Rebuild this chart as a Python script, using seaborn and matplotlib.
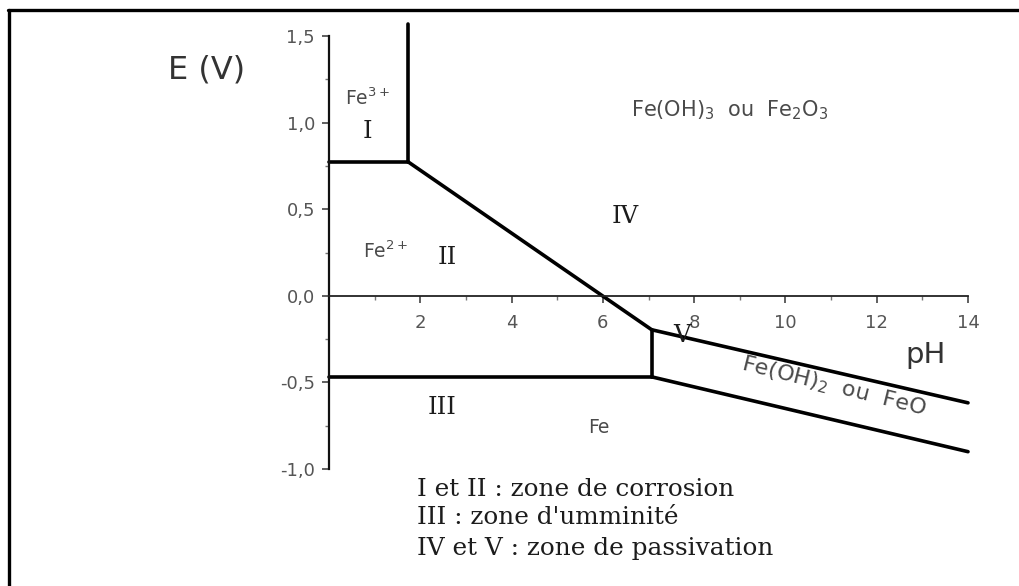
import numpy as np
import pandas as pd
import matplotlib
matplotlib.use("Agg")
import matplotlib.pyplot as plt
import matplotlib.ticker as ticker
from matplotlib.lines import Line2D
import seaborn as sns

# boundary segments of the Pourbaix diagram (pH, E in V)
seg_names = ["Fe3+/Fe2+", "Fe3+/Fe(OH)3", "Fe2+/Fe(OH)3", "Fe2+/Fe(OH)2 (v)",
             "Fe/Fe2+", "Fe(OH)3/Fe(OH)2", "Fe/Fe(OH)2"]
seg_ph_start = [0.0, 1.73, 1.73, 7.07, 0.0, 7.07, 7.07]
seg_ph_end = [1.73, 1.73, 7.07, 7.07, 7.07, 14.0, 14.0]
seg_e_start = [0.774, 0.774, 0.774, -0.196, -0.468, -0.196, -0.468]
seg_e_end = [0.774, 1.57, -0.196, -0.468, -0.468, -0.618, -0.900]

x_major = [2, 4, 6, 8, 10, 12, 14]
y_major = [-1.0, -0.5, 0.0, 0.5, 1.0, 1.5]

legend_lines = ["I et II : zone de corrosion",
                "III : zone d'umminité",
                "IV et V : zone de passivation"]

rows = []
for name, x0, x1, e0, e1 in zip(seg_names, seg_ph_start, seg_ph_end, seg_e_start, seg_e_end):
    rows.append({"segment": name, "pH": x0, "E": e0})
    rows.append({"segment": name, "pH": x1, "E": e1})
df = pd.DataFrame(rows)

sns.set_style("ticks")
plt.rcParams["font.family"] = ["DejaVu Sans"]

W, H = 1019, 586
fig = plt.figure(figsize=(W / 100, H / 100), dpi=100)
ax_left, ax_right, ax_top, ax_bot = 329, 968, 36, 469
ax = fig.add_axes([ax_left / W, 1 - ax_bot / H, (ax_right - ax_left) / W, (ax_bot - ax_top) / H])

sns.lineplot(data=df, x="pH", y="E", units="segment", estimator=None, sort=False,
             color="black", lw=2.6, ax=ax, legend=False)
for ln in ax.lines:
    ln.set_clip_on(False)
    ln.set_solid_capstyle("round")
    ln.set_solid_joinstyle("round")

ax.set_xlim(0, 14)
ax.set_ylim(-1.0, 1.5)
ax.set_xlabel("")
ax.set_ylabel("")

for s in ["top", "right"]:
    ax.spines[s].set_visible(False)
ax.spines["bottom"].set_position(("data", 0))
ax.spines["bottom"].set_linewidth(1.3)
ax.spines["left"].set_linewidth(1.6)
ax.spines["bottom"].set_color("#222222")
ax.spines["left"].set_color("#111111")

ax.set_xticks(x_major)
ax.set_xticks([1, 3, 5, 7, 9, 11, 13], minor=True)
ax.set_yticks(y_major)
ax.set_yticks([-0.75, -0.25, 0.25, 0.75, 1.25], minor=True)
comma = ticker.FuncFormatter(lambda v, p: f"{v:.1f}".replace(".", ","))
ax.yaxis.set_major_formatter(comma)
ax.tick_params(axis="both", which="major", length=5, width=1.2, color="#444444",
               labelsize=13, labelcolor="#555555")
ax.tick_params(axis="both", which="minor", length=3, width=1.0, color="#777777")
ax.tick_params(axis="x", which="major", pad=8)
ax.tick_params(axis="y", which="major", pad=5)

gray = "#4a4a4a"
dark = "#1c1c1c"
sans = 13.5
roman = 17.5
ax.text(0.85, 1.14, "Fe$^{3+}$", color=gray, fontsize=sans, ha="center", va="center")
ax.text(0.85, 0.95, "I", color=dark, fontsize=roman, family="DejaVu Serif", ha="center", va="center")
ax.text(1.23, 0.26, "Fe$^{2+}$", color=gray, fontsize=sans, ha="center", va="center")
ax.text(2.59, 0.22, "II", color=dark, fontsize=roman, family="DejaVu Serif", ha="center", va="center")
ax.text(8.79, 1.07, "Fe(OH)$_3$  ou  Fe$_2$O$_3$", color=gray, fontsize=15, ha="center", va="center")
ax.text(6.5, 0.456, "IV", color=dark, fontsize=roman, family="DejaVu Serif", ha="center", va="center")
ax.text(7.73, -0.23, "V", color=dark, fontsize=roman, family="DejaVu Serif", ha="center", va="center")
ax.text(11.05, -0.525, "Fe(OH)$_2$  ou  FeO", color=gray, fontsize=16, ha="center", va="center",
        rotation=-14, rotation_mode="anchor")
ax.text(13.06, -0.34, "pH", color="#333333", fontsize=21, ha="center", va="center")
ax.text(2.48, -0.647, "III", color=dark, fontsize=roman, family="DejaVu Serif", ha="center", va="center")
ax.text(5.92, -0.762, "Fe", color=gray, fontsize=sans, ha="center", va="center")

fig.text(207 / W, 1 - 70 / H, "E (V)", color="#333333", fontsize=23, ha="center", va="center")

for txt, yp in zip(legend_lines, [489, 518, 549]):
    fig.text(417 / W, 1 - yp / H, txt, color=dark, fontsize=17.8, family="DejaVu Serif",
             ha="left", va="center")

# outer frame (top and left edges visible)
fig.add_artist(Line2D([8 / W, 1.0], [1 - 10 / H, 1 - 10 / H], transform=fig.transFigure,
                      color="black", lw=2.4))
fig.add_artist(Line2D([9 / W, 9 / W], [1 - 10 / H, 0.0], transform=fig.transFigure,
                      color="black", lw=2.4))

fig.savefig("out.png", dpi=100)
